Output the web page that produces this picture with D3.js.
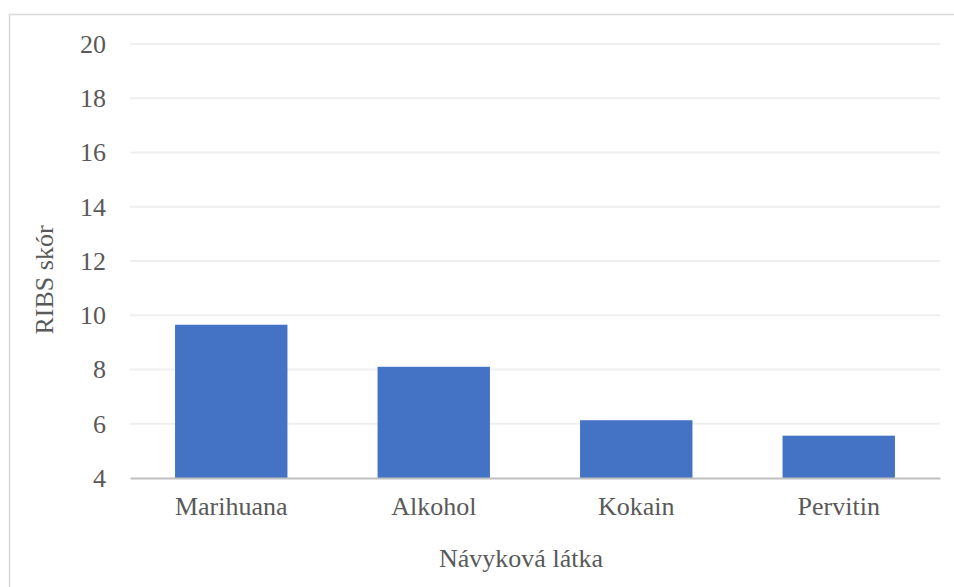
<!DOCTYPE html>
<html>
<head>
    <script src="https://d3js.org/d3.v7.min.js"></script>
    <style>
        body { margin: 0; background: #fff; }
        svg text { font-family: 'Times New Roman', 'Liberation Serif', Times, serif !important; fill: #595959; }
    </style>
</head>
<body>
<div class="graph"></div>
<script>
    const categories = ['Marihuana', 'Alkohol', 'Kokain', 'Pervitin']
    const values = [9.65, 8.1, 6.13, 5.56]
    const yTicks = [4, 6, 8, 10, 12, 14, 16, 18, 20]
    const xTitle = 'Návyková látka'
    const yTitle = 'RIBS skór'

    const w = 954
    const h = 587
    const padLeft = 130, padRight = 940, padTop = 44, padBottom = 478

    const svg = d3.select('.graph')
        .append('svg')
        .attr('width', w)
        .attr('height', h)

    // chart frame (continues past the right and bottom edges)
    svg.append('rect')
        .attr('x', 9.5)
        .attr('y', 14.5)
        .attr('width', 1100)
        .attr('height', 700)
        .attr('fill', 'none')
        .attr('stroke', '#d9d9d9')
        .attr('stroke-width', 1.5)

    const xScale = d3.scaleBand()
        .domain(categories)
        .range([padLeft, padRight])
        .paddingInner(0.445)
        .paddingOuter(0.2225)

    const yScale = d3.scaleLinear()
        .domain([4, 20])
        .range([padBottom, padTop])

    // gridlines
    svg.append('g')
        .selectAll('line')
        .data(yTicks.slice(1))
        .enter()
        .append('line')
        .attr('x1', padLeft)
        .attr('x2', padRight)
        .attr('y1', d => yScale(d))
        .attr('y2', d => yScale(d))
        .attr('stroke', '#efefef')
        .attr('stroke-width', 2)

    const yAxis = d3.axisLeft(yScale)
        .tickValues(yTicks)
        .tickSize(0)
        .tickPadding(24)

    const yg = svg.append('g')
        .attr('transform', 'translate(' + padLeft + ',0)')
        .call(yAxis)
    yg.select('.domain').remove()
    yg.selectAll('text')
        .style('font-size', '26px')

    svg.selectAll('.bar')
        .data(values)
        .enter()
        .append('rect')
        .attr('class', 'bar')
        .attr('x', (d, i) => xScale(categories[i]))
        .attr('width', xScale.bandwidth())
        .attr('y', d => yScale(d))
        .attr('height', d => yScale(4) - yScale(d))
        .attr('fill', '#4472c4')

    const xAxis = d3.axisBottom(xScale)
        .tickSize(0)
        .tickPadding(19)

    const xg = svg.append('g')
        .attr('transform', 'translate(0,' + padBottom + ')')
        .call(xAxis)
    xg.select('.domain')
        .attr('stroke', '#bfbfbf')
        .attr('stroke-width', 2)
    xg.selectAll('text')
        .style('font-size', '26px')

    svg.append('text')
        .attr('x', 521)
        .attr('y', 567)
        .attr('text-anchor', 'middle')
        .style('font-size', '26px')
        .text(xTitle)

    svg.append('text')
        .attr('transform', 'translate(53,280) rotate(-90)')
        .attr('text-anchor', 'middle')
        .style('font-size', '26px')
        .text(yTitle)
</script>
</body>
</html>
